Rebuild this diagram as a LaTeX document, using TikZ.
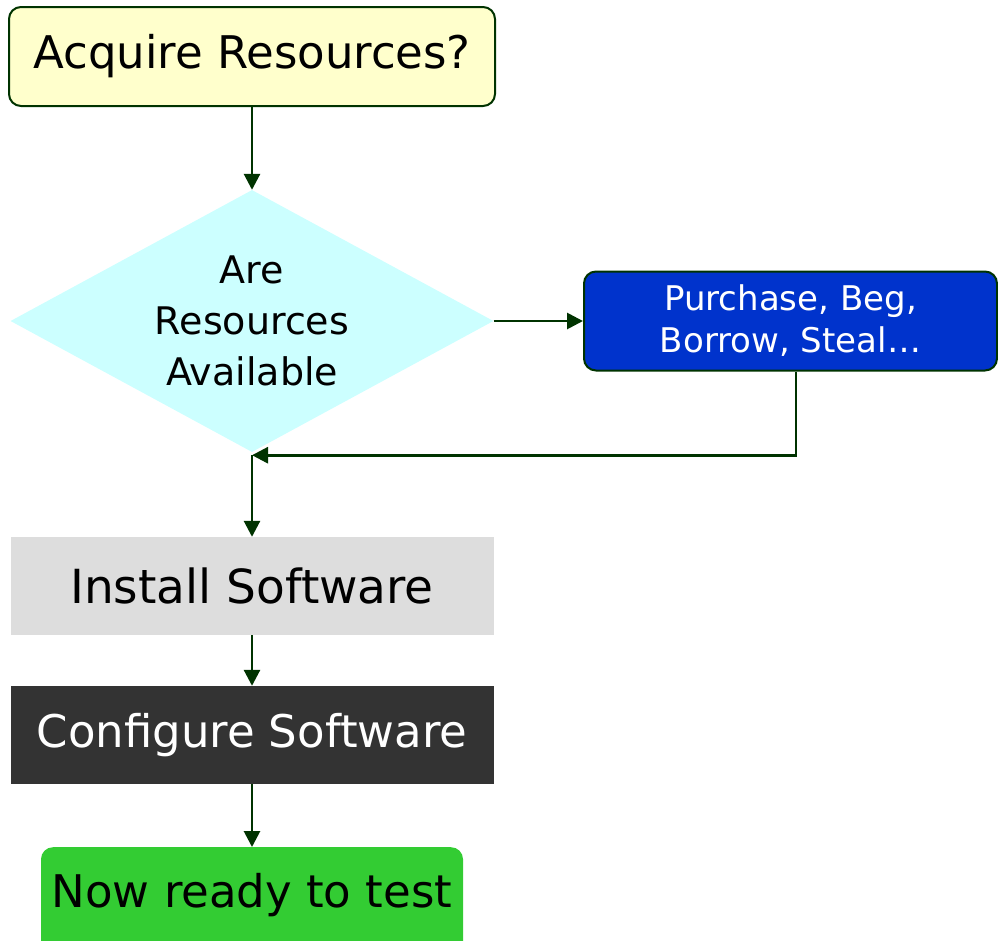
\documentclass[tikz,border=0pt]{standalone}
\usepackage{fontspec}
\setmainfont{DejaVu Sans}
\usetikzlibrary{shapes.geometric,arrows.meta}
\definecolor{linegreen}{HTML}{003300}
\definecolor{paleyellow}{HTML}{FFFFCC}
\definecolor{palecyan}{HTML}{CCFFFF}
\definecolor{royal}{HTML}{0033CC}
\definecolor{lightgrey}{HTML}{DDDDDD}
\definecolor{charcoal}{HTML}{333333}
\definecolor{brightgreen}{HTML}{33CC33}
\tikzset{
  arr/.style={draw=linegreen, line width=2.8pt, -{Triangle[length=16pt,width=16pt]}},
  roundbox/.style={rectangle, rounded corners=12pt, inner sep=0pt, align=center},
  flatbox/.style={rectangle, inner sep=0pt, align=center},
  bigtext/.style={font=\fontsize{45}{54}\selectfont},
}
\begin{document}
\begin{tikzpicture}[x=1pt,y=-1pt]
\useasboundingbox (0,0) rectangle (998,940);
\clip (0,0) rectangle (998,940);

% process steps
\node[roundbox, bigtext, fill=paleyellow, draw=linegreen, line width=2pt,
      minimum width=486pt, minimum height=99pt] (acq) at (252,56.5) {Acquire Resources?};

\node[diamond, fill=palecyan, inner sep=0pt, aspect=1.84, align=center,
      minimum width=483pt, minimum height=262pt,
      font=\fontsize{38}{51}\selectfont] (dec) at (252,321) {Are\\Resources\\Available};

\node[roundbox, fill=royal, draw=linegreen, line width=2pt, text=white,
      minimum width=413pt, minimum height=99pt,
      font=\fontsize{34}{42}\selectfont] (buy) at (790.5,321) {Purchase, Beg,\\Borrow, Steal\ldots};

\node[flatbox, font=\fontsize{47}{54}\selectfont, fill=lightgrey, minimum width=483pt, minimum height=98pt]
      (inst) at (252,586) {Install Software};

\node[flatbox, bigtext, fill=charcoal, text=white, minimum width=483pt, minimum height=98pt]
      (conf) at (252,735) {Configure Software};

\node[roundbox, fill=brightgreen, anchor=north,
      minimum width=422pt, minimum height=110pt] (ready) at (252,847) {};
\node[bigtext] (readytxt) at (252,895) {Now ready to test};

% connectors
\coordinate (merge) at ([yshift=-3pt]dec.south);
\draw[arr] (acq.south) -- (dec.north);
\draw[arr] (dec.east) -- (buy.west);
\draw[arr] ([xshift=5.5pt]buy.south) |- (merge);
\draw[arr] (merge) -- (inst.north);
\draw[arr] (inst.south) -- (conf.north);
\draw[arr] (conf.south) -- (ready.north);
\end{tikzpicture}
\end{document}
